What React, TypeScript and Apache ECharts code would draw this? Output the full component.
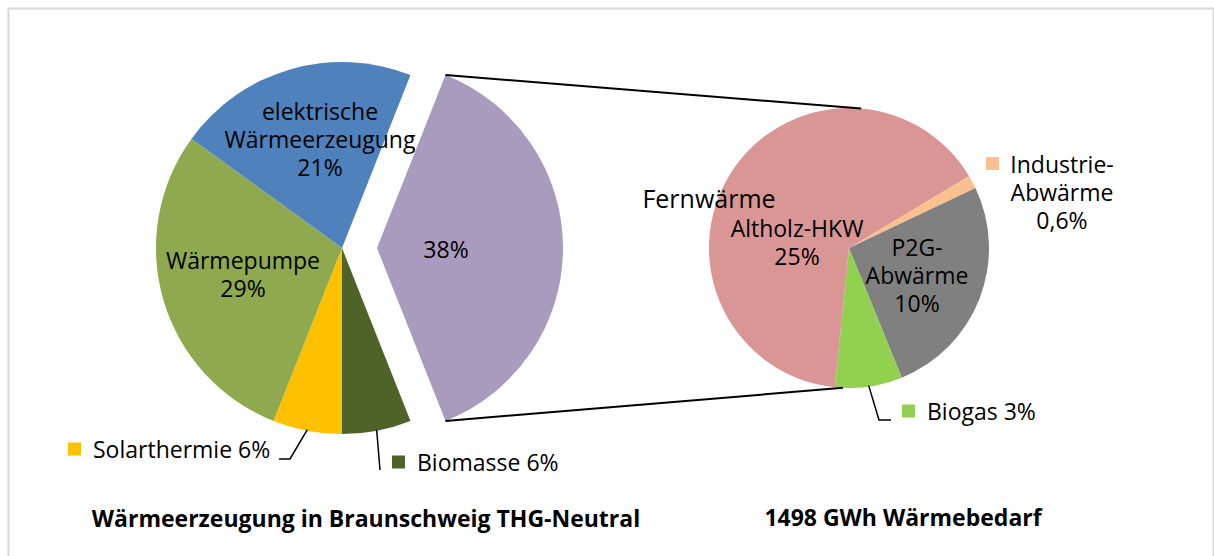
import React, { useEffect, useRef } from "react";
import * as echarts from "echarts";

// ---- data ----
const mainNames = ["Fernwärme", "Biomasse", "Solarthermie", "Wärmepumpe", "elektrische Wärmeerzeugung"];
const mainLabels = ["", "Biomasse", "Solarthermie", "Wärmepumpe", "elektrische\nWärmeerzeugung"];
const mainValues = [38, 6, 6, 29, 21];
const subNames = ["Industrie-Abwärme", "P2G-Abwärme", "Biogas", "Altholz-HKW"];
const subLabels = ["Industrie-\nAbwärme", "P2G-\nAbwärme", "Biogas", "Altholz-HKW"];
const subValues = [0.6, 10, 3, 25];
const groupTitle = "Fernwärme";
const titles = ["Wärmeerzeugung in Braunschweig THG-Neutral", "1498 GWh Wärmebedarf"];

// ---- styles / layout ----
const mainColors = ["#A99BBD", "#4F6228", "#FFC000", "#8EA94E", "#4F81BD"];
const subColors = ["#FAC090", "#808080", "#92D050", "#D99694"];
const FONT = '"Open Sans", "Noto Sans", sans-serif';
const L = { cx: 342, cy: 248, r: 186, offset: 35 };
const R = { cx: 849, cy: 248, r: 140, start: 31 };

const pct = (v: number) => String(v).replace(".", ",") + "%";
const sum = (a: number[]) => a.reduce((s, v) => s + v, 0);
const mainStart = (mainValues[0] / sum(mainValues)) * 180;

function midAngles(values: number[], start: number) {
  const total = sum(values);
  let a = start;
  return values.map((v) => {
    const span = (v / total) * 360;
    const m = a - span / 2;
    a -= span;
    return m;
  });
}
function pt(cx: number, cy: number, r: number, deg: number): [number, number] {
  const t = (deg * Math.PI) / 180;
  return [cx + r * Math.cos(t), cy - r * Math.sin(t)];
}

type Pos = { x: number; y: number; align?: string; key?: boolean; inline?: boolean };
const mainPos: Pos[] = [
  { x: 446, y: 249 },
  { x: 417, y: 462, align: "left", key: true, inline: true },
  { x: 93, y: 449, align: "left", key: true, inline: true },
  { x: 243, y: 274 },
  { x: 320, y: 139 },
];
const subPos: Pos[] = [
  { x: 1062, y: 192, key: true },
  { x: 917, y: 275 },
  { x: 927, y: 411, align: "left", key: true, inline: true },
  { x: 797, y: 242 },
];

function labelEls(labels: string[], values: number[], colors: string[], pos: Pos[]) {
  const els: any[] = [];
  labels.forEach((lab, i) => {
    const p = pos[i];
    const text = lab ? lab + (p.inline ? " " : "\n") + pct(values[i]) : pct(values[i]);
    els.push({
      type: "text",
      x: p.x,
      y: p.y,
      z: 100,
      style: {
        text,
        fill: "#000",
        fontSize: 23,
        fontFamily: FONT,
        lineHeight: 28,
        align: p.align || "center",
        verticalAlign: "middle",
      },
    });
    if (p.key) {
      let kx: number, ky: number;
      if (p.align === "left") {
        kx = p.x - 25;
        ky = p.y - 6.5;
      } else {
        kx = 986;
        ky = 157;
      }
      els.push({
        type: "rect",
        z: 100,
        shape: { x: kx, y: ky, width: 13, height: 13 },
        style: { fill: colors[i] },
      });
    }
  });
  return els;
}

export default function App() {
  const ref = useRef<HTMLDivElement>(null);
  useEffect(() => {
    document.body.style.margin = "0";
    const chart = echarts.init(ref.current!, null, { renderer: "svg" });
    const mainMid = midAngles(mainValues, mainStart);
    const subMid = midAngles(subValues, R.start);

    const lTop = pt(L.cx + L.offset, L.cy, L.r, mainStart);
    const lBot = pt(L.cx + L.offset, L.cy, L.r, -mainStart);
    const rTop = pt(R.cx, R.cy, R.r, 85);
    const rBot = pt(R.cx, R.cy, R.r, -92.5);

    const lineStyle = { stroke: "#000", lineWidth: 1.5, fill: "none" };
    const graphics: any[] = [
      {
        type: "rect",
        z: -10,
        shape: { x: 8.5, y: 8.5, width: 1205, height: 600 },
        style: { fill: "none", stroke: "#D9D9D9", lineWidth: 2 },
      },
      { type: "line", z: 50, shape: { x1: lTop[0], y1: lTop[1], x2: rTop[0], y2: rTop[1] }, style: { stroke: "#000", lineWidth: 2 } },
      { type: "line", z: 50, shape: { x1: lBot[0], y1: lBot[1], x2: rBot[0], y2: rBot[1] }, style: { stroke: "#000", lineWidth: 2 } },
      // leader lines
      { type: "polyline", z: 50, shape: { points: [[279, 459], [290, 459], pt(L.cx, L.cy, L.r - 1, mainMid[2])] }, style: lineStyle },
      { type: "polyline", z: 50, shape: { points: [[380, 470], pt(L.cx, L.cy, L.r - 1, mainMid[1])] }, style: lineStyle },
      { type: "polyline", z: 50, shape: { points: [[891, 420], [879, 420], pt(R.cx, R.cy, R.r - 1, subMid[2])] }, style: lineStyle },
      ...labelEls(mainLabels, mainValues, mainColors, mainPos),
      ...labelEls(subLabels, subValues, subColors, subPos),
      {
        type: "text",
        x: 709,
        y: 198,
        z: 100,
        style: { text: groupTitle, fill: "#000", fontSize: 25, fontFamily: FONT, align: "center", verticalAlign: "middle" },
      },
      {
        type: "text",
        x: 366,
        y: 518,
        z: 100,
        style: { text: titles[0], fill: "#000", fontSize: 23, fontWeight: "bold", fontFamily: FONT, align: "center", verticalAlign: "middle" },
      },
      {
        type: "text",
        x: 903,
        y: 517,
        z: 100,
        style: { text: titles[1], fill: "#000", fontSize: 23, fontWeight: "bold", fontFamily: FONT, align: "center", verticalAlign: "middle" },
      },
    ];

    chart.setOption({
      animation: false,
      backgroundColor: "#fff",
      series: [
        {
          type: "pie",
          center: [L.cx, L.cy],
          radius: [0, L.r],
          startAngle: mainStart,
          clockwise: true,
          selectedMode: "single",
          selectedOffset: L.offset,
          label: { show: false },
          labelLine: { show: false },
          emphasis: { disabled: true },
          silent: true,
          itemStyle: { borderWidth: 0 },
          data: mainNames.map((n, i) => ({
            name: n,
            value: mainValues[i],
            selected: i === 0,
            itemStyle: { color: mainColors[i] },
          })),
        },
        {
          type: "pie",
          center: [R.cx, R.cy],
          radius: [0, R.r],
          startAngle: R.start,
          clockwise: true,
          label: { show: false },
          labelLine: { show: false },
          emphasis: { disabled: true },
          silent: true,
          itemStyle: { borderWidth: 0 },
          data: subNames.map((n, i) => ({
            name: n,
            value: subValues[i],
            itemStyle: { color: subColors[i] },
          })),
        },
      ],
      graphic: graphics,
    });
    return () => chart.dispose();
  }, []);
  return <div ref={ref} style={{ width: 1214, height: 556 }} />;
}
